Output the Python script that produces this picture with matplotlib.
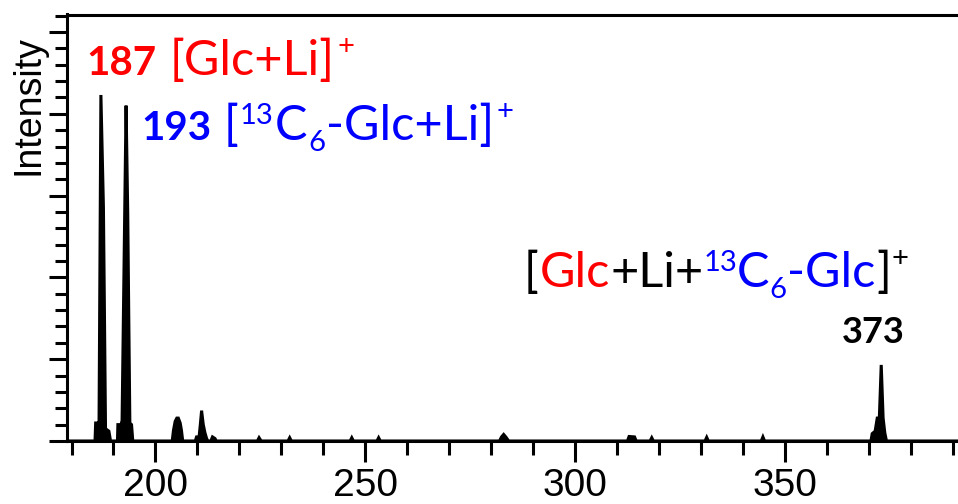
import matplotlib
matplotlib.use("Agg")
import matplotlib.pyplot as plt
from matplotlib.transforms import IdentityTransform
from matplotlib.ticker import FixedLocator, MultipleLocator, NullFormatter

# Labelled ions (m/z)
glc_li = 187      # [Glc+Li]+
glc13_li = 193    # [13C6-Glc+Li]+
dimer_li = 373    # [Glc+Li+13C6-Glc]+

# Spectrum profile: m/z and relative intensity
mz = [
    178.8, 185.6, 185.75, 186.3, 186.55, glc_li, 187.6, 187.85, 188.1, 188.9, 189.3,
    190.95, 191.05, 191.8, 192.05, glc13_li, 193.4, 193.65, 193.9, 194.3, 194.6,
    204.0, 204.3, 204.7, 205.1, 205.45, 205.9, 206.2, 206.5,
    209.5, 209.8, 210.4, 210.7, 211.0, 211.4, 211.8, 212.2, 212.5,
    213.2, 213.6, 214.2, 214.5,
    224.3, 224.7, 225.2,
    231.6, 232.0, 232.4,
    246.4, 246.8, 247.2,
    252.8, 253.2, 253.6,
    282.0, 282.5, 283.0, 283.5, 284.2,
    312.5, 312.9, 314.2, 314.6,
    317.9, 318.3, 318.7,
    331.0, 331.4, 331.8,
    344.4, 344.8, 345.2,
    370.55, 370.85, 371.55, 372.05, 372.55, dimer_li, 373.45, 373.85, 374.25,
    391.3,
]
intensity = [
    0, 0, 0.22, 0.22, 0.15, 4.23, 2.86, 1.52, 0.15, 0.12, 0,
    0, 0.20, 0.20, 0.25, 4.10, 2.77, 1.47, 0.22, 0.20, 0,
    0, 0.13, 0.24, 0.28, 0.28, 0.22, 0.13, 0,
    0, 0.05, 0.05, 0.20, 0.37, 0.20, 0.10, 0.03, 0,
    0, 0.05, 0.03, 0,
    0, 0.04, 0,
    0, 0.04, 0,
    0, 0.04, 0,
    0, 0.04, 0,
    0, 0.05, 0.08, 0.05, 0,
    0, 0.055, 0.05, 0,
    0, 0.04, 0,
    0, 0.045, 0,
    0, 0.05, 0,
    0, 0.09, 0.12, 0.28, 0.28, 0.93, 0.28, 0.10, 0,
    0,
]

x_ticks = [200, 250, 300, 350]

W, H, DPI = 958, 504, 100
LW = 2.2
RED, BLUE, BLACK = "#ff0000", "#0000ff", "#000000"
ANN_FONT = "Lato"
AX_FONT = "Liberation Sans"

fig = plt.figure(figsize=(W / DPI, H / DPI), dpi=DPI)
ax = fig.add_axes([66.5 / W, 63 / H, 1 - 66.5 / W, 426.5 / H])

ax.fill_between(mz, intensity, 0, color=BLACK, lw=0)
ax.plot(mz, intensity, color=BLACK, lw=LW, solid_joinstyle="miter")

ax.set_xlim(178.8, 391.3)
ax.set_ylim(0, 5.214)

for side in ("left", "bottom", "top"):
    ax.spines[side].set_linewidth(LW)
    ax.spines[side].set_color(BLACK)
ax.spines["right"].set_visible(False)

ax.xaxis.set_major_locator(FixedLocator(x_ticks))
ax.xaxis.set_minor_locator(MultipleLocator(10))
ax.yaxis.set_major_locator(MultipleLocator(1))
ax.yaxis.set_minor_locator(MultipleLocator(0.2))
ax.yaxis.set_major_formatter(NullFormatter())

ax.tick_params(axis="x", which="major", direction="out", length=15, width=LW,
               labelsize=28, pad=4.5, top=False)
ax.tick_params(axis="x", which="minor", direction="out", length=10, width=LW, top=False)
ax.tick_params(axis="y", which="major", direction="out", length=13, width=LW, right=False)
ax.tick_params(axis="y", which="minor", direction="out", length=8.6, width=LW, right=False)
for lab in ax.get_xticklabels():
    lab.set_fontfamily(AX_FONT)

fig.text(28 / W, 1 - 105 / H, "Intensity", rotation=90, ha="center", va="center",
         fontsize=27, family=AX_FONT, color=BLACK)

renderer = fig.canvas.get_renderer()


def draw_runs(x0, y_top, runs):
    """Write a row of differently styled pieces, left to right, in pixels."""
    x = x0
    base = H - y_top
    for text, color, weight, size, dy, gap in runs:
        t = fig.text(x + gap, base + dy, text, transform=IdentityTransform(),
                     ha="left", va="baseline", color=color, fontweight=weight,
                     fontsize=size, family=ANN_FONT)
        x = t.get_window_extent(renderer).x1


NUM, MAIN, SUP = 29, 35, 21

draw_runs(86, 75, [
    (str(glc_li), RED, "bold", NUM, 0, 0),
    ("[Glc+Li]", RED, "normal", MAIN, 0, 13),
    ("+", RED, "normal", SUP, 20, 3),
])

draw_runs(141, 140, [
    (str(glc13_li), BLUE, "bold", NUM, 0, 0),
    ("[", BLUE, "normal", MAIN, 0, 12),
    ("13", BLUE, "normal", SUP, 16, 2),
    ("C", BLUE, "normal", MAIN, 0, 1),
    ("6", BLUE, "normal", SUP, -11, 1),
    ("-Glc+Li]", BLUE, "normal", MAIN, 0, 1),
    ("+", BLUE, "normal", SUP, 20, 2),
])

draw_runs(524, 287, [
    ("[", BLACK, "normal", MAIN, 0, 0),
    ("Glc", RED, "normal", MAIN, 0, 1),
    ("+Li+", BLACK, "normal", MAIN, 0, 0),
    ("13", BLUE, "normal", SUP, 16, 0),
    ("C", BLUE, "normal", MAIN, 0, 0),
    ("6", BLUE, "normal", SUP, -11, 0),
    ("-Glc", BLUE, "normal", MAIN, 0, 0),
    ("]", BLACK, "normal", MAIN, 0, 1),
    ("+", BLACK, "normal", SUP, 20, 1),
])

draw_runs(842, 343, [
    (str(dimer_li), BLACK, "bold", 26, 0, 0),
])

fig.savefig("out.png", dpi=DPI)
